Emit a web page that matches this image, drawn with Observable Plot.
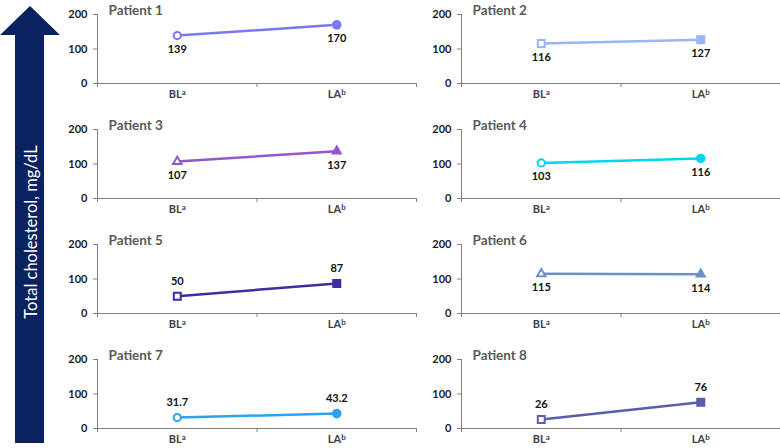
<!DOCTYPE html>
<html><head><meta charset="utf-8">
<script src="https://cdn.jsdelivr.net/npm/d3@7"></script>
<script src="https://cdn.jsdelivr.net/npm/@observablehq/plot@0.6"></script>
<style>
body{margin:0;background:#fff;}
#wrap{position:relative;width:780px;height:448px;overflow:hidden;font-family:Lato,sans-serif;}
#arrow{position:absolute;left:0;top:0;}
#chart{position:absolute;left:0;top:0;}
</style></head><body>
<div id="wrap"><div id="chart"></div><svg id="arrow" width="62" height="448"></svg></div>
<script>
// ---- data ----
const patients = ["Patient 1","Patient 2","Patient 3","Patient 4","Patient 5","Patient 6","Patient 7","Patient 8"];
const timepoints = ["BL", "LA"];
const timeNotes = ["a", "b"];
const baseline = [139, 116, 107, 103, 50, 115, 31.7, 26];
const lastAssessment = [170, 127, 137, 116, 87, 114, 43.2, 76];
const yTicks = [0, 100, 200];
const yLabel = "Total cholesterol, mg/dL";

// ---- styles ----
const colors = ["#7b78f5","#9bb5f5","#9459c9","#00d6f0","#3a2f9f","#6a92c6","#2ea2f0","#5b5dab"];
const shapes = ["circle","square","triangle","circle","square","triangle","circle","square"];
const hollowR = {circle: 3.6, square: 3.9, triangle: 3.1};
const filledR = {circle: 4.8, square: 5.1, triangle: 4.3};

const rows = [];
patients.forEach((p, i) => {
  [baseline[i], lastAssessment[i]].forEach((v, t) => rows.push({
    patient: p, shape: shapes[i], col: i % 2, row: Math.floor(i / 2), t, x: t + 0.5, value: v
  }));
});
const panels = patients.map((p, i) => ({patient: p, col: i % 2, row: Math.floor(i / 2)}));
const facet = {fx: "col", fy: "row"};

const chart = Plot.plot({
  width: 780, height: 448,
  marginLeft: 97, marginRight: 0, marginTop: 13, marginBottom: 19,
  style: {fontFamily: "Lato, sans-serif", background: "transparent", overflow: "visible"},
  x: {domain: [0, 2], axis: null},
  y: {domain: [0, 200], axis: null},
  fx: {axis: null, paddingInner: 0.124, paddingOuter: 0},
  fy: {axis: null, paddingInner: 0.403, paddingOuter: 0},
  color: {domain: patients, range: colors},
  symbol: {domain: patients, range: shapes},
  r: {type: "identity"},
  marks: [
    Plot.ruleY([0], {stroke: "#808080", strokeWidth: 1}),
    Plot.ruleX([0], {stroke: "#808080", strokeWidth: 1}),
    Plot.axisX({ticks: [0, 1, 2], tickFormat: () => "", tickSize: 4, stroke: "#808080", label: null, facetAnchor: null}),
    Plot.axisX({ticks: [0.5, 1.5], tickSize: 0, tickPadding: 7, tickFormat: d => timepoints[Math.floor(d)] + "|" + timeNotes[Math.floor(d)],
      fontSize: 11, fontWeight: "bold", fill: "#404040", label: null, facetAnchor: null}),
    Plot.axisY({ticks: yTicks, tickSize: 4, tickPadding: 6, stroke: "#808080", label: null,
      fontSize: 11, fontWeight: "bold", fill: "#1a1a1a", facetAnchor: null}),
    Plot.line(rows, {x: "x", y: "value", z: "patient", stroke: "patient", strokeWidth: 2.5, ...facet}),
    Plot.dot(rows.filter(d => d.t === 0), {x: "x", y: "value", stroke: "patient", fill: "white",
      symbol: "patient", r: d => hollowR[d.shape], strokeWidth: 2, ...facet}),
    Plot.dot(rows.filter(d => d.t === 1), {x: "x", y: "value", fill: "patient",
      symbol: "patient", r: d => filledR[d.shape], ...facet}),
    Plot.text(rows.filter(d => d.value < 100), {x: "x", y: "value", text: d => String(d.value), dy: -15,
      fontSize: 11, fontWeight: "bold", fill: "#111", ...facet}),
    Plot.text(rows.filter(d => d.value >= 100), {x: "x", y: "value", text: d => String(d.value), dy: 14,
      fontSize: 11, fontWeight: "bold", fill: "#111", ...facet}),
    Plot.text(panels, {text: "patient", frameAnchor: "top-left", lineAnchor: "middle", dx: 11, dy: -4,
      fontSize: 13.5, fontWeight: "bold", fill: "#595959", ...facet})
  ]
});
document.getElementById("chart").appendChild(chart);

// superscript footnote letters on category labels
d3.select(chart).selectAll("text").each(function() {
  const s = this.textContent;
  if (s.includes("|")) {
    const [base, note] = s.split("|");
    const t = d3.select(this);
    t.text(null);
    t.append("tspan").text(base);
    t.append("tspan").attr("font-size", 8).attr("dy", "-0.45em").text(note);
  }
});

// ---- arrow ----
const svg = d3.select("#arrow");
svg.append("polygon")
  .attr("points", "30,6 0,35 15,35 15,443 44,443 44,35 60,35")
  .attr("fill", "#0b2260");
svg.append("text")
  .attr("transform", "translate(31,232) rotate(-90)")
  .attr("text-anchor", "middle")
  .attr("dominant-baseline", "central")
  .attr("fill", "#fff")
  .attr("font-family", "Lato, sans-serif")
  .attr("font-size", 16.5)
  .text(yLabel);
</script>
</body></html>
